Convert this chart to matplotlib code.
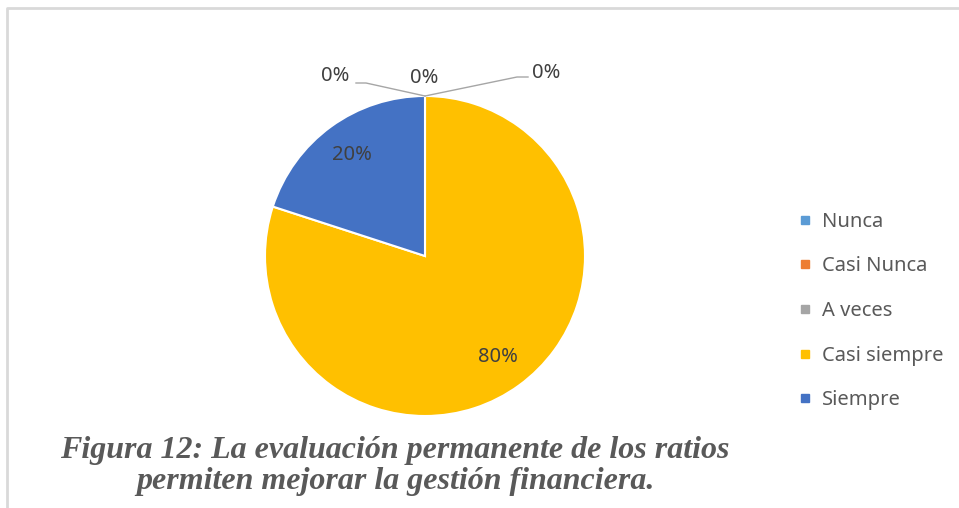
import numpy as np
import matplotlib
matplotlib.use("Agg")
import matplotlib.pyplot as plt
from matplotlib.lines import Line2D

categories = ["Nunca", "Casi Nunca", "A veces", "Casi siempre", "Siempre"]
values = [0, 0, 0, 80, 20]
colors = ["#5B9BD5", "#ED7D31", "#A5A5A5", "#FFC000", "#4472C4"]
caption = ("Figura 12: La evaluación permanente de los ratios\n"
           "permiten mejorar la gestión financiera.")

W, H = 959, 508
fig = plt.figure(figsize=(W / 100, H / 100), dpi=100)
ax = fig.add_axes([0, 0, 1, 1])

font = "Noto Sans"
txt_col = "#404040"
fs = 14.5

cx, cy, r = 425, 252, 160
wedges, _ = ax.pie(values, colors=colors, startangle=90, counterclock=False,
                   center=(cx, cy), radius=r, frame=True,
                   wedgeprops=dict(edgecolor="white", linewidth=1.5))
ax.set_xlim(0, W)
ax.set_ylim(0, H)
ax.axis("off")

# frame (only top and left edges visible in the crop)
ax.add_line(Line2D([7, 7, W], [0, H - 8, H - 8], color="#D9D9D9", lw=2))

total = sum(values)
# labels for the non-zero slices
for w, v in zip(wedges, values):
    if v == 0:
        continue
    mid = np.deg2rad((w.theta1 + w.theta2) / 2)
    ax.text(cx + 0.78 * r * np.cos(mid), cy + 0.78 * r * np.sin(mid),
            f"{v / total:.0%}", ha="center", va="center",
            fontsize=fs, color=txt_col, family=font)

# zero slices: labels pulled above the pie with leader lines
top = (cx, cy + r)
zero_pos = [(335, H - 76), (424, H - 78), (546, H - 73)]
for (tx, ty), v in zip(zero_pos, values[:3]):
    ax.text(tx, ty, f"{v / total:.0%}", ha="center", va="center",
            fontsize=fs, color=txt_col, family=font)
ax.plot([356, 366, top[0]], [H - 83, H - 83, top[1]], color="#A6A6A6", lw=1)
ax.plot([top[0], 517, 528], [top[1], H - 77, H - 77], color="#A6A6A6", lw=1)

handles = [Line2D([], [], ls="", marker="s", markersize=5.2, color=c) for c in colors]
leg = ax.legend(handles, categories, loc="center left",
                bbox_to_anchor=(793 / W, 1 - 311 / H), frameon=False,
                borderaxespad=0, handlelength=0.4, handletextpad=0.65,
                labelspacing=1.22, prop=dict(family=font, size=fs))
for t in leg.get_texts():
    t.set_color("#595959")

fig.text(395 / W, 1 - 466 / H, caption, ha="center", va="center",
         fontsize=23, color="#595959", family="Liberation Serif",
         fontweight="bold", style="italic", linespacing=1.12)

fig.savefig("out.png", dpi=100)
